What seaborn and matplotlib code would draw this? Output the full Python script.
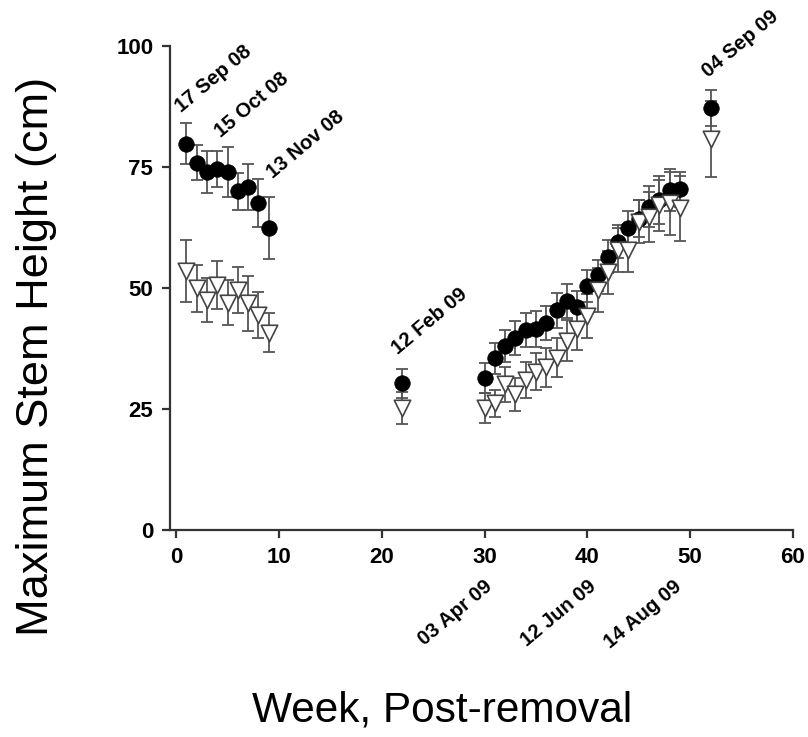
import numpy as np
import pandas as pd
import seaborn as sns
import matplotlib.pyplot as plt
import matplotlib.transforms as mtransforms

# --------- Data ---------
weeks = [1, 2, 3, 4, 5, 6, 7, 8, 9, 22,
         30, 31, 32, 33, 34, 35, 36, 37, 38, 39,
         40, 41, 42, 43, 44, 45, 46, 47, 48, 49, 52]

filled_height = [79.8, 75.9, 74.0, 74.6, 73.9, 70.0, 70.9, 67.6, 62.3, 30.3,
                 31.4, 35.5, 38.1, 39.6, 41.4, 41.5, 42.8, 45.4, 47.4, 46.0,
                 50.5, 52.6, 56.5, 59.6, 62.4, 64.3, 66.8, 68.2, 70.2, 70.4, 87.2]
filled_err = [4.2, 3.6, 4.3, 3.8, 5.2, 3.8, 4.7, 5.0, 6.4, 3.0,
              3.0, 3.2, 3.3, 3.5, 3.5, 3.7, 3.5, 3.6, 3.5, 3.4,
              3.3, 3.2, 3.4, 3.5, 3.6, 3.8, 4.3, 5.0, 4.3, 3.6, 3.7]

open_height = [53.6, 49.9, 47.5, 50.6, 47.0, 49.6, 46.8, 44.4, 40.8, 25.2,
               25.2, 26.2, 30.1, 28.0, 31.0, 32.7, 33.6, 35.6, 39.1, 41.5,
               44.2, 49.6, 53.2, 57.9, 57.9, 63.7, 64.7, 67.1, 67.5, 66.5, 80.8]
open_err = [6.4, 4.8, 4.5, 5.0, 4.7, 4.8, 5.6, 4.7, 4.0, 3.3,
            3.0, 2.8, 3.6, 3.5, 3.8, 3.8, 4.0, 4.0, 4.2, 4.3,
            4.5, 4.5, 4.5, 4.5, 4.5, 4.5, 5.2, 5.3, 6.5, 6.7, 7.8]

# date labels above the points
top_dates = ["17 Sep 08", "15 Oct 08", "13 Nov 08", "12 Feb 09", "04 Sep 09"]
top_date_x = [0.5, 4.4, 9.4, 21.6, 51.8]
top_date_y = [86.2, 81.0, 72.5, 36.2, 93.4]

# date labels below the x axis
bottom_dates = ["03 Apr 09", "12 Jun 09", "14 Aug 09"]
bottom_date_x = [30.8, 41.0, 49.3]

df = pd.DataFrame({
    "week": weeks,
    "filled": filled_height, "filled_err": filled_err,
    "open": open_height, "open_err": open_err,
})

# --------- Style ---------
sns.set_style("ticks")
plt.rcParams["font.family"] = ["Liberation Sans", "DejaVu Sans"]
plt.rcParams["text.color"] = "black"
plt.rcParams["xtick.labelcolor"] = "black"
plt.rcParams["ytick.labelcolor"] = "black"

fig = plt.figure(figsize=(8.08, 7.37), dpi=100)
ax = fig.add_axes([0.2104, 0.2809, 0.771, 0.6567])

err_color = "#555555"

# error bars first
ax.errorbar(df["week"], df["filled"], yerr=df["filled_err"], fmt="none",
            ecolor=err_color, elinewidth=1.3, capsize=4.5, capthick=1.3, zorder=2)
ax.errorbar(df["week"], df["open"], yerr=df["open_err"], fmt="none",
            ecolor=err_color, elinewidth=1.3, capsize=4.5, capthick=1.3, zorder=2)

sns.scatterplot(data=df, x="week", y="filled", marker="o", s=125,
                color="black", edgecolor="black", linewidth=0.5, ax=ax, zorder=3)
sns.scatterplot(data=df, x="week", y="open", marker="v", s=140,
                color="white", edgecolor="#444444", linewidth=1.2, ax=ax, zorder=4)

# --------- Axes ---------
ax.set_xlim(-0.6, 60)
ax.set_ylim(0, 100)
ax.set_xticks([0, 10, 20, 30, 40, 50, 60])
ax.set_yticks([0, 25, 50, 75, 100])
sns.despine(ax=ax)
for side in ["left", "bottom"]:
    ax.spines[side].set_linewidth(1.6)
    ax.spines[side].set_color("#333333")
ax.tick_params(axis="both", direction="out", length=6, width=1.6,
               color="#333333", labelsize=16, pad=6)
for lab in ax.get_xticklabels() + ax.get_yticklabels():
    lab.set_fontweight("bold")

ax.set_xlabel("")
ax.set_ylabel("")
fig.text(0.547, 0.021, "Week, Post-removal", ha="center", va="baseline", fontsize=30.5)
fig.text(0.045, 0.516, "Maximum Stem Height (cm)", ha="center", va="center",
         rotation=90, fontsize=32.5)

# --------- Date annotations ---------
for label, x, y in zip(top_dates, top_date_x, top_date_y):
    ax.text(x, y, label, rotation=40, rotation_mode="anchor", ha="left",
            va="baseline", fontsize=14.5, fontweight="bold", clip_on=False)

trans = mtransforms.blended_transform_factory(ax.transData, ax.transAxes)
for label, x in zip(bottom_dates, bottom_date_x):
    ax.text(x, -0.12, label, transform=trans, rotation=40, rotation_mode="anchor",
            ha="right", va="baseline", fontsize=14.5, fontweight="bold", clip_on=False)

fig.savefig("out.png", dpi=100)
